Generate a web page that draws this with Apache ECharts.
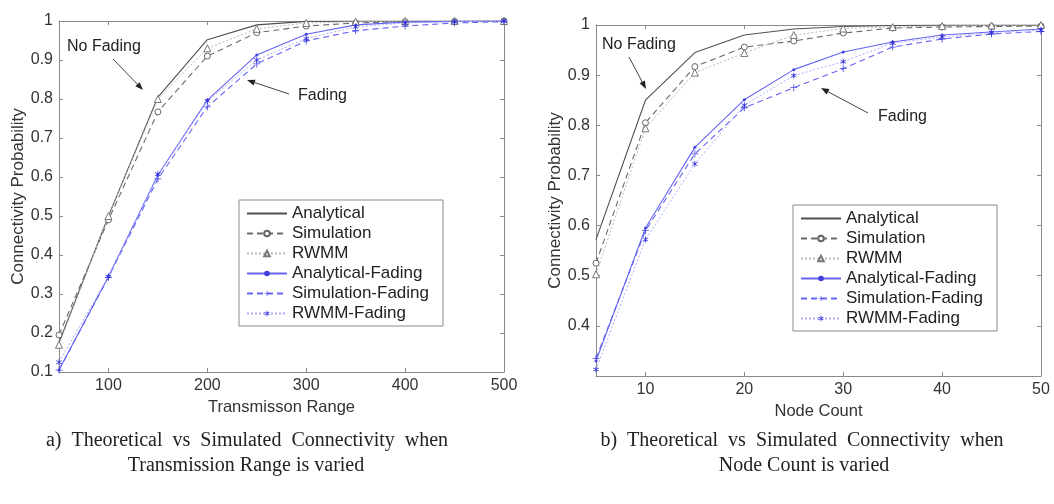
<!DOCTYPE html>
<html>
<head>
<meta charset="utf-8">
<script src="https://cdn.jsdelivr.net/npm/echarts@6/dist/echarts.min.js"></script>
<style>
html,body{margin:0;padding:0;background:#fff;}
#chart{width:1054px;height:504px;}
</style>
</head>
<body>
<div id="chart"></div>
<script>
// ---- Data: (a) Transmission range varied ----
const rangeX = [50, 100, 150, 200, 250, 300, 350, 400, 450, 500];
const analyticalA        = [0.175, 0.50, 0.805, 0.952, 0.990, 0.999, 1.000, 1.000, 1.000, 1.000];
const simulationA        = [0.195, 0.49, 0.767, 0.910, 0.970, 0.987, 0.995, 0.998, 0.999, 1.000];
const rwmmA              = [0.170, 0.50, 0.800, 0.930, 0.980, 0.995, 0.998, 1.000, 1.000, 1.000];
const analyticalFadingA  = [0.105, 0.345, 0.605, 0.797, 0.913, 0.966, 0.990, 0.997, 0.999, 1.000];
const simulationFadingA  = [0.105, 0.343, 0.595, 0.780, 0.890, 0.949, 0.975, 0.987, 0.995, 0.998];
const rwmmFadingA        = [0.125, 0.345, 0.607, 0.795, 0.900, 0.955, 0.985, 0.995, 0.998, 1.000];

// ---- Data: (b) Node count varied ----
const nodeX = [5, 10, 15, 20, 25, 30, 35, 40, 45, 50];
const analyticalB        = [0.572, 0.850, 0.945, 0.980, 0.992, 0.997, 0.999, 1.000, 1.000, 1.000];
const simulationB        = [0.525, 0.805, 0.917, 0.956, 0.968, 0.984, 0.994, 0.996, 0.997, 0.998];
const rwmmB              = [0.503, 0.794, 0.905, 0.944, 0.980, 0.993, 0.996, 0.998, 0.999, 1.000];
const analyticalFadingB  = [0.330, 0.595, 0.756, 0.851, 0.911, 0.946, 0.966, 0.980, 0.986, 0.992];
const simulationFadingB  = [0.335, 0.590, 0.743, 0.835, 0.875, 0.913, 0.956, 0.972, 0.982, 0.987];
const rwmmFadingB        = [0.313, 0.572, 0.723, 0.840, 0.899, 0.927, 0.964, 0.976, 0.985, 0.990];

// ---- Tick labels ----
const rangeTicks = [100, 200, 300, 400, 500];
const nodeTicks = [10, 20, 30, 40, 50];
const probTicksA = [0.1, 0.2, 0.3, 0.4, 0.5, 0.6, 0.7, 0.8, 0.9, 1.0];
const probTicksB = [0.4, 0.5, 0.6, 0.7, 0.8, 0.9, 1.0];

const seriesNames = ['Analytical', 'Simulation', 'RWMM', 'Analytical-Fading', 'Simulation-Fading', 'RWMM-Fading'];

const PLUS = 'path://M4.4,0H5.6V4.4H10V5.6H5.6V10H4.4V5.6H0V4.4H4.4Z';
const ASTER = 'path://M4.4,0H5.6V3.6L8.7,1.8L9.3,2.8L6.2,4.6L6.2,5.4L9.3,7.2L8.7,8.2L5.6,6.4V10H4.4V6.4L1.3,8.2L0.7,7.2L3.8,5.4V4.6L0.7,2.8L1.3,1.8L4.4,3.6Z';

const styles = {
  'Analytical':        {line: {color: '#505050', width: 1.1, type: 'solid'}, symbol: 'none', size: 0, item: {color: '#505050'}},
  'Simulation':        {line: {color: '#6a6a6a', width: 1.1, type: [6, 4]}, symbol: 'circle', size: 6, item: {color: '#fff', borderColor: '#666', borderWidth: 1}},
  'RWMM':              {line: {color: '#b8b8b8', width: 1, type: [2, 2]}, symbol: 'triangle', size: 7, item: {color: '#fff', borderColor: '#777', borderWidth: 1}},
  'Analytical-Fading': {line: {color: '#6464f2', width: 1.1, type: 'solid'}, symbol: 'circle', size: 3, item: {color: '#4040e0'}},
  'Simulation-Fading': {line: {color: '#6464f2', width: 1.1, type: [6, 4]}, symbol: PLUS, size: 7, item: {color: '#4a4ae8'}},
  'RWMM-Fading':       {line: {color: '#acacff', width: 1, type: [2, 2]}, symbol: ASTER, size: 6, item: {color: '#3030d8'}}
};

function pairs(xs, ys) { return xs.map((x, i) => [x, ys[i]]); }

function mkSeries(name, xs, ys, axisIdx) {
  const s = styles[name];
  return {
    name: name, type: 'line', xAxisIndex: axisIdx, yAxisIndex: axisIdx,
    data: pairs(xs, ys),
    symbol: s.symbol, symbolSize: s.size, showSymbol: s.symbol !== 'none',
    lineStyle: s.line, itemStyle: s.item,
    animation: false, silent: true, z: 3
  };
}

const AX_COLOR = '#8a8a8a';
const TXT = '#333';
const SANS = 'Arial, Liberation Sans, sans-serif';
const SERIF = 'Times New Roman, Liberation Serif, serif';
function fmt(v) { return String(+(+v).toFixed(1)); }

function xAxisPair(gridIndex, min, max, ticks, name, nameGap) {
  return [
    {type: 'value', gridIndex: gridIndex, position: 'bottom', min: min, max: max,
     name: name, nameLocation: 'middle', nameGap: nameGap,
     nameTextStyle: {fontFamily: SANS, fontSize: 16.5, color: TXT},
     axisLine: {onZero: false, lineStyle: {color: AX_COLOR, width: 1}},
     axisTick: {inside: true, length: 4, lineStyle: {color: AX_COLOR}, customValues: ticks},
     axisLabel: {fontFamily: SANS, fontSize: 16, color: TXT, margin: 6, customValues: ticks, formatter: fmt},
     splitLine: {show: false}},
    {type: 'value', gridIndex: gridIndex, position: 'top', min: min, max: max,
     axisLine: {onZero: false, lineStyle: {color: AX_COLOR, width: 1}},
     axisTick: {inside: true, length: 4, lineStyle: {color: AX_COLOR}, customValues: ticks},
     axisLabel: {show: false}, splitLine: {show: false}}
  ];
}
function yAxisPair(gridIndex, min, max, ticks, name, nameGap) {
  return [
    {type: 'value', gridIndex: gridIndex, position: 'left', min: min, max: max,
     name: name, nameLocation: 'middle', nameGap: nameGap,
     nameTextStyle: {fontFamily: SANS, fontSize: 17, color: TXT},
     axisLine: {onZero: false, lineStyle: {color: AX_COLOR, width: 1}},
     axisTick: {inside: true, length: 4, lineStyle: {color: AX_COLOR}, customValues: ticks},
     axisLabel: {fontFamily: SANS, fontSize: 16, color: TXT, margin: 6, customValues: ticks, formatter: fmt},
     splitLine: {show: false}},
    {type: 'value', gridIndex: gridIndex, position: 'right', min: min, max: max,
     axisLine: {onZero: false, lineStyle: {color: AX_COLOR, width: 1}},
     axisTick: {inside: true, length: 4, lineStyle: {color: AX_COLOR}, customValues: ticks},
     axisLabel: {show: false}, splitLine: {show: false}}
  ];
}

function arrow(x1, y1, x2, y2) {
  const ang = Math.atan2(y2 - y1, x2 - x1);
  const L = 8, W = 3;
  const bx = x2 - L * Math.cos(ang), by = y2 - L * Math.sin(ang);
  const px = -Math.sin(ang) * W, py = Math.cos(ang) * W;
  return [
    {type: 'line', shape: {x1: x1, y1: y1, x2: bx, y2: by}, style: {stroke: '#444', lineWidth: 1}, silent: true, z: 10},
    {type: 'polygon', shape: {points: [[x2, y2], [bx + px, by + py], [bx - px, by - py]]}, style: {fill: '#222'}, silent: true, z: 10}
  ];
}
function label(text, x, y, size, family, align) {
  return {type: 'text', x: x, y: y, silent: true, z: 10,
    style: {text: text, fontSize: size, fontFamily: family, fill: '#222', align: align || 'left', verticalAlign: 'middle'}};
}

const legendData = seriesNames.map(n => n === 'Analytical'
  ? {name: n, itemStyle: {opacity: 0}}
  : {name: n});

const legendCommon = {
  orient: 'vertical', borderColor: '#8a8a8a', borderWidth: 1, backgroundColor: '#fff',
  padding: [5, 14, 4, 7], itemGap: 3, itemHeight: 7, itemWidth: 40,
  textStyle: {fontFamily: SANS, fontSize: 17, lineHeight: 16, color: '#222'},
  data: legendData, selectedMode: false, z: 8
};

// slightly widened word spacing on the first caption lines, as in the printed figure
const captionA1 = ['a)', 'Theoretical', 'vs', 'Simulated', 'Connectivity', 'when'].join('  ');
const captionB1 = ['b)', 'Theoretical', 'vs', 'Simulated', 'Connectivity', 'when'].join('  ');

const option = {
  backgroundColor: '#fff',
  animation: false,
  grid: [
    {left: 59, top: 21, width: 445, height: 351},
    {left: 596, top: 25, width: 445, height: 351}
  ],
  xAxis: [].concat(
    xAxisPair(0, 50, 500, rangeTicks, 'Transmisson Range', 22),
    xAxisPair(1, 5, 50, nodeTicks, 'Node Count', 17)
  ),
  yAxis: [].concat(
    yAxisPair(0, 0.1, 1, probTicksA, 'Connectivity Probability', 31),
    yAxisPair(1, 0.3, 1, probTicksB, 'Connectivity Probability', 31)
  ),
  legend: [
    Object.assign({left: 239, top: 200}, legendCommon),
    Object.assign({left: 793, top: 205}, legendCommon)
  ],
  series: [
    mkSeries('Analytical', rangeX, analyticalA, 0),
    mkSeries('Simulation', rangeX, simulationA, 0),
    mkSeries('RWMM', rangeX, rwmmA, 0),
    mkSeries('Analytical-Fading', rangeX, analyticalFadingA, 0),
    mkSeries('Simulation-Fading', rangeX, simulationFadingA, 0),
    mkSeries('RWMM-Fading', rangeX, rwmmFadingA, 0),
    mkSeries('Analytical', nodeX, analyticalB, 2),
    mkSeries('Simulation', nodeX, simulationB, 2),
    mkSeries('RWMM', nodeX, rwmmB, 2),
    mkSeries('Analytical-Fading', nodeX, analyticalFadingB, 2),
    mkSeries('Simulation-Fading', nodeX, simulationFadingB, 2),
    mkSeries('RWMM-Fading', nodeX, rwmmFadingB, 2)
  ],
  graphic: [].concat(
    [label('No Fading', 67, 47, 16, SANS)],
    arrow(113, 59, 143, 90),
    [label('Fading', 298, 96, 16, SANS)],
    arrow(289, 94, 247, 80),
    [label('No Fading', 602, 45, 16, SANS)],
    arrow(629, 57, 646, 89),
    [label('Fading', 878, 117, 16, SANS)],
    arrow(868, 113, 821, 88),
    [label(captionA1, 247, 441, 20, SERIF, 'center'),
     label('Transmission Range is varied', 246, 466, 20, SERIF, 'center'),
     label(captionB1, 802, 441, 20, SERIF, 'center'),
     label('Node Count is varied', 804, 466, 20, SERIF, 'center')]
  )
};

const chart = echarts.init(document.getElementById('chart'), null, {renderer: 'canvas'});
chart.setOption(option);
</script>
</body>
</html>
